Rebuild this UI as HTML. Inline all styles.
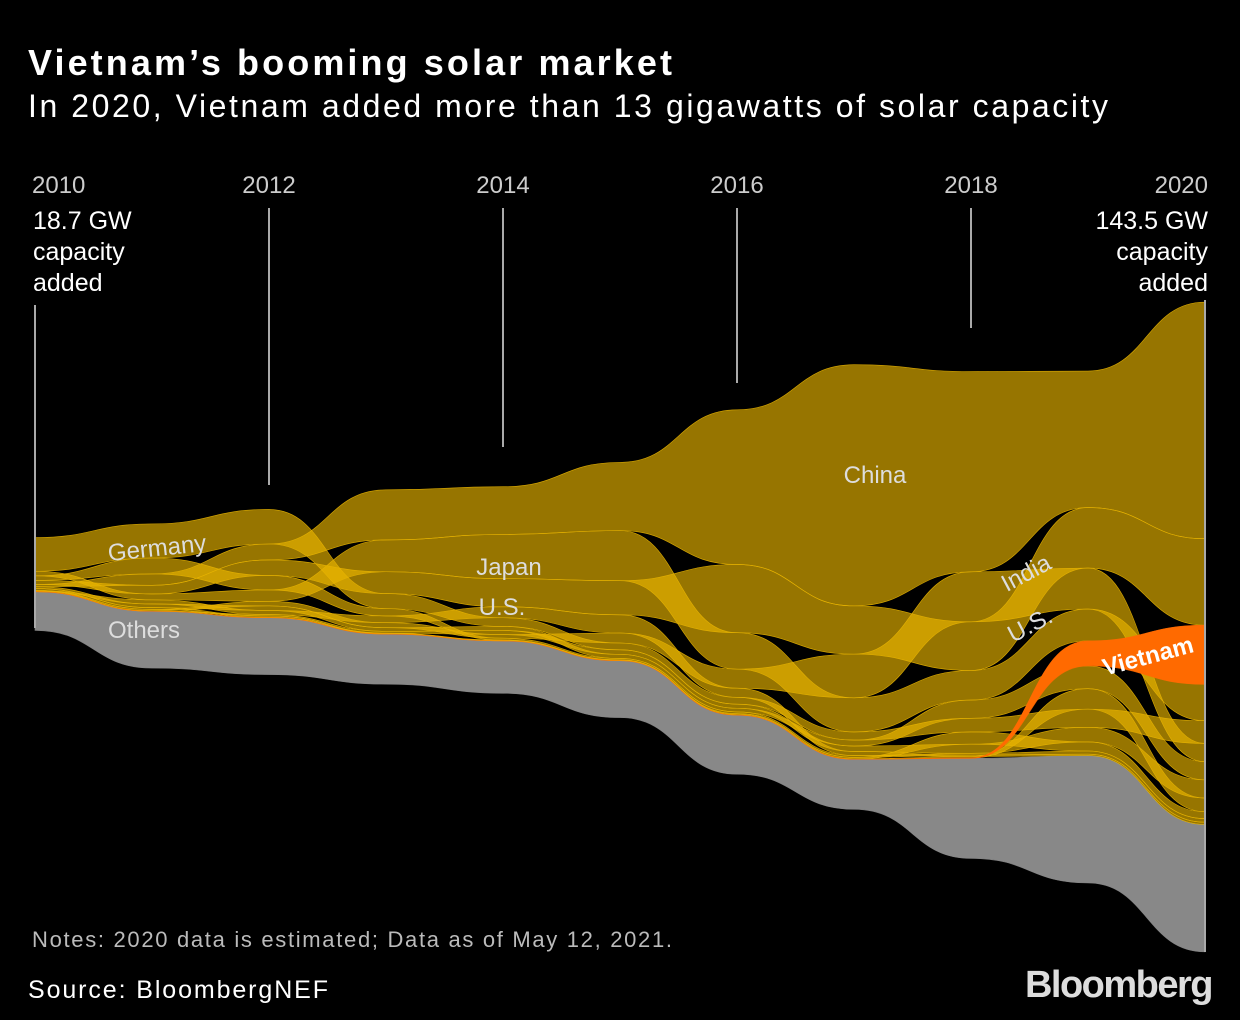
<!DOCTYPE html>
<html><head><meta charset="utf-8">
<style>
body{margin:0;background:#000;width:1240px;height:1020px;overflow:hidden;font-family:"Liberation Sans",sans-serif;}
svg{display:block}
</style></head>
<body>
<svg id="chart" width="1240" height="1020">
<rect width="1240" height="1020" fill="#000"/>
<text x="28" y="75" font-size="36" font-weight="bold" fill="#fff" textLength="644" lengthAdjust="spacing">Vietnam’s booming solar market</text>
<text x="28" y="117" font-size="32" fill="#fff" textLength="1080" lengthAdjust="spacing">In 2020, Vietnam added more than 13 gigawatts of solar capacity</text>
<g id="bands"></g>
<g id="axis"></g>
<text x="33" y="229" font-size="25" fill="#fff"><tspan x="33">18.7 GW</tspan><tspan x="33" dy="31">capacity</tspan><tspan x="33" dy="31">added</tspan></text>
<text x="1208" y="229" font-size="25" fill="#fff" text-anchor="end"><tspan x="1208">143.5 GW</tspan><tspan x="1208" dy="31">capacity</tspan><tspan x="1208" dy="31">added</tspan></text>
<g font-size="24" fill="#ddd">
<text x="157" y="556" text-anchor="middle" transform="rotate(-6 157 548)">Germany</text>
<text x="509" y="575" text-anchor="middle">Japan</text>
<text x="502" y="615" text-anchor="middle">U.S.</text>
<text x="875" y="483" text-anchor="middle">China</text>
<text x="1026" y="581" text-anchor="middle" transform="rotate(-28 1026 573)">India</text>
<text x="1030" y="633" text-anchor="middle" transform="rotate(-28 1030 625)">U.S.</text>
<text x="144" y="638" text-anchor="middle">Others</text>
<text x="1148" y="664" text-anchor="middle" font-weight="bold" fill="#fff" transform="rotate(-15 1148 656)">Vietnam</text>
</g>
<text x="32" y="947" font-size="22" fill="#bbb" textLength="640" lengthAdjust="spacing">Notes: 2020 data is estimated; Data as of May 12, 2021.</text>
<text x="28" y="998" font-size="25" fill="#fff" textLength="300" lengthAdjust="spacing">Source:  BloombergNEF</text>
<text x="1212" y="997" font-size="38" font-weight="bold" fill="#ddd" text-anchor="end" letter-spacing="-1.5">Bloomberg</text>
</svg>
<script>
const years=[2010,2011,2012,2013,2014,2015,2016,2017,2018,2019,2020];
const china=[0.5,2.5,3.5,11,10.5,15,34,53,44,30,52];
const germany=[7.4,7.5,7.6,3.3,1.9,1.5,1.5,1.8,3,4,5];
const japan=[1,1.3,2.5,7,9.7,11,8,7.5,6.5,7,8];
const us=[0.9,1.9,3.4,4.8,6.2,7.5,15,10.6,10.7,13.3,19];
const india=[0.1,0.3,1,1.1,0.8,2.2,4.2,9.6,11,9,4];
const italy=[1,3.5,3.2,1.6,0.4,0.3,0.4,0.4,0.4,0.7,0.8];
const vietnam=[0,0,0,0,0,0,0,0,0.1,5.5,13];
const australia=[0.4,0.8,1,0.8,0.9,0.9,0.8,1.3,4,5,4];
const uk=[0.1,0.9,0.9,1.5,2.4,4,2,0.9,0.3,0.3,0.5];
const korea=[0.1,0.1,0.3,0.4,0.9,1,0.9,1.2,2,3.2,4];
const spain=[0.4,0.4,0.3,0.1,0.1,0.1,0.1,0.1,0.3,4.5,3];
const mexico=[0,0,0.1,0.1,0.1,0.1,0.2,0.3,2.7,2,1.5];
const others=[8.5,12.5,12.5,11,11.5,12.5,13,11,22,28,28];
const seriesNames=["China","Germany","Japan","U.S.","India","Italy","Vietnam","Australia","U.K.","Korea","Spain","Mexico"];
const seriesVals=[china,germany,japan,us,india,italy,vietnam,australia,uk,korea,spain,mexico];
const centers=[584,596,592,587,590,590,592,587,615,627,627];
const x0=35,xStep=117,k=4.55;
const xOf=i=>x0+i*xStep;
const ns="http://www.w3.org/2000/svg";
const bandsG=document.getElementById('bands');
const tops={},bots={};
const all=seriesNames.concat(["Others"]);
const allVals=seriesVals.concat([others]);
all.forEach(n=>{tops[n]=[];bots[n]=[];});
years.forEach((y,i)=>{
  let total=allVals.reduce((s,a)=>s+a[i],0);
  let cur=centers[i]-total*k/2;
  const idx=seriesNames.map((n,j)=>j).sort((a,b)=>seriesVals[b][i]-seriesVals[a][i]);
  idx.forEach(j=>{const n=seriesNames[j];tops[n][i]=cur;cur+=seriesVals[j][i]*k;bots[n][i]=cur;});
  tops.Others[i]=cur;cur+=others[i]*k;bots.Others[i]=cur;
});
function pathFor(n){
  const t=tops[n],b=bots[n];let d=`M${xOf(0)},${t[0]}`;
  for(let i=1;i<years.length;i++){const xm=(xOf(i-1)+xOf(i))/2;d+=` C${xm},${t[i-1]} ${xm},${t[i]} ${xOf(i)},${t[i]}`;}
  d+=` L${xOf(years.length-1)},${b[years.length-1]}`;
  for(let i=years.length-2;i>=0;i--){const xm=(xOf(i)+xOf(i+1))/2;d+=` C${xm},${b[i+1]} ${xm},${b[i]} ${xOf(i)},${b[i]}`;}
  return d+'Z';
}
function addBand(n,fill,op,name){
  const p=document.createElementNS(ns,'path');
  p.setAttribute('d',pathFor(n));p.setAttribute('fill',fill);p.setAttribute('fill-opacity',op);
  p.setAttribute('stroke',fill);p.setAttribute('stroke-opacity',0.9);p.setAttribute('stroke-width',0.6);
  
  
  bandsG.appendChild(p);
}
addBand("Others","#888",1,"band-others");
seriesNames.forEach(n=>{if(n!=="Vietnam")addBand(n,"#e8b400",0.65,"band-"+n.toLowerCase().replace(/\./g,''));});
addBand("Vietnam","#ff6a00",1,"band-vietnam");
const axisG=document.getElementById('axis');
const lineEnds=[628,null,485,null,447,null,383,null,328,null,952];
const lineStarts=[305,null,208,null,208,null,208,null,208,null,300];
years.forEach((y,i)=>{
  if(i%2)return;
  const l=document.createElementNS(ns,'line');
  l.setAttribute('x1',xOf(i));l.setAttribute('x2',xOf(i));
  l.setAttribute('y1',lineStarts[i]);l.setAttribute('y2',lineEnds[i]);
  l.setAttribute('stroke','#aaa');l.setAttribute('stroke-width',2);
  
  
  axisG.appendChild(l);
  const t=document.createElementNS(ns,'text');
  const anchor=i===0?'start':(i===10?'end':'middle');
  t.setAttribute('x',i===0?32:(i===10?1208:xOf(i)));t.setAttribute('y',193);
  t.setAttribute('text-anchor',anchor);t.setAttribute('font-size',24);t.setAttribute('fill','#ccc');
  t.textContent=y;
  
  
  axisG.appendChild(t);
});
</script>
</body></html>
